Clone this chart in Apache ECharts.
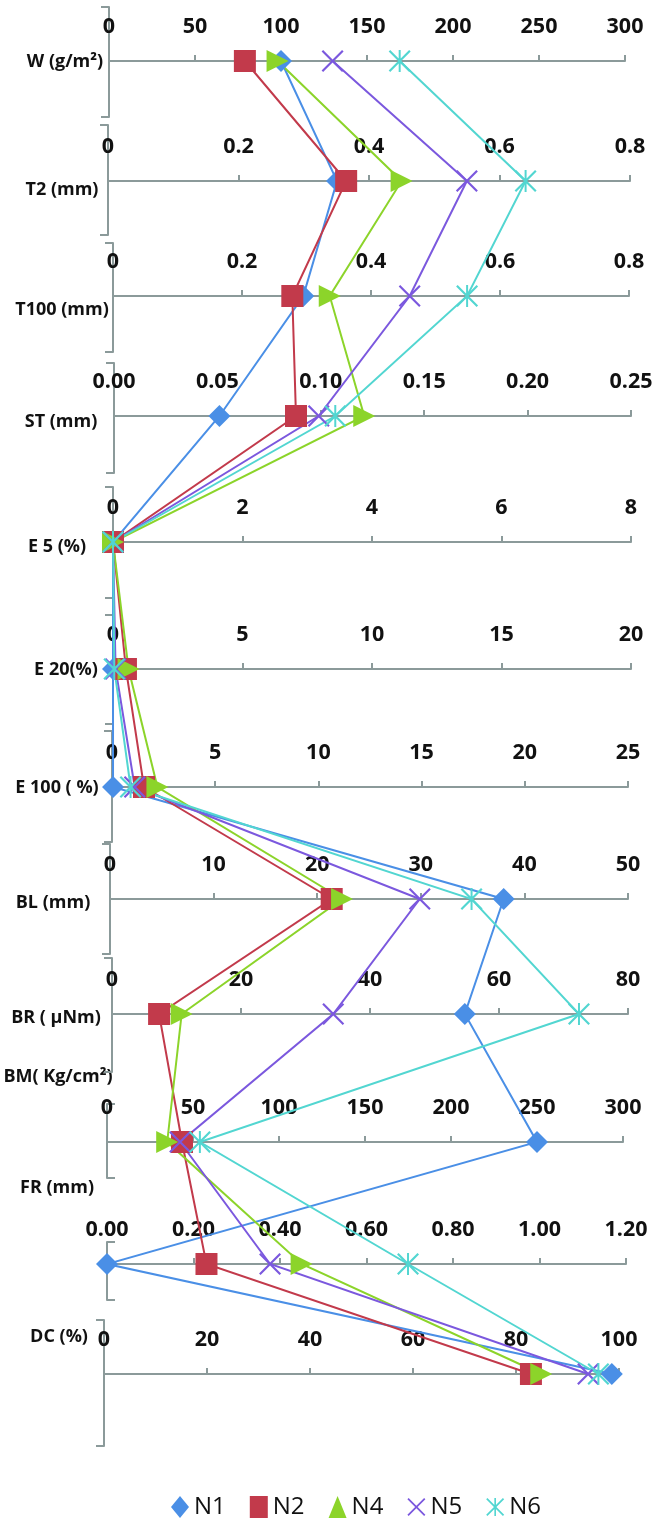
<!DOCTYPE html>
<html><head><meta charset="utf-8">
<script src="https://cdn.jsdelivr.net/npm/echarts@6/dist/echarts.min.js"></script>
<style>html,body{margin:0;padding:0;background:#fff}#c{width:656px;height:1528px}</style>
</head><body><div id="c"></div>
<script>
// ---------- DATA ----------
const rowNames = ['W (g/m²)','T2 (mm)','T100 (mm)','ST (mm)','E 5 (%)','E 20(%)','E 100 ( %)','BL (mm)','BR ( µNm)','BM( Kg/cm²)','FR (mm)','DC (%)'];
const axisMax  = [300, 0.8, 0.8, 0.25, 8, 20, 25, 50, 80, 300, 1.2, 100];
const axisStep = [50, 0.2, 0.2, 0.05, 2, 5, 5, 10, 20, 50, 0.2, 20];
const labelDecimals = [null, null, null, 2, null, null, null, null, null, null, 2, null];
const seriesNames = ['N1','N2','N4','N5','N6'];
const N1 = [100, 0.351, 0.295, 0.051, 0, 0,    0.05, 38.0, 54.7, 250,  0,     98.6];
const N2 = [79,  0.365, 0.278, 0.088, 0, 0.5,  1.55, 21.4, 7.3,  43.6, 0.23,  82.9];
const N4 = [98,  0.45,  0.336, 0.121, 0, 0.6,  2.2,  22.4, 10.8, 35,   0.45,  84.9];
const N5 = [130, 0.55,  0.46,  0.099, 0, 0.1,  1.1,  29.9, 34.3, 42.5, 0.377, 94];
const N6 = [169, 0.64,  0.549, 0.107, 0, 0.05, 0.9,  34.9, 72.4, 54,   0.696, 96];
const seriesValues = [N1, N2, N4, N5, N6];

// ---------- LAYOUT / STYLE ----------
const rowAxisY  = [61,181,296,416,542,669,787,899,1014,1142,1264,1374];
const rowTop    = [7,125,243,363,487,615,731,844,958,1104,1242,1320];
const rowBottom = [117,235,352,473,598,724,842,954,1072,1178,1300,1446];
const rowX0 = [109,108,113,114,113,113,112,110,112,107,107,104];
const rowX1 = [625,630,629,631,631,631,628,628,628,623,626,619];
const rowTickInside = [false,false,false,false,false,false,false,false,false,true,true,false];
const nameX = [65,62,62,61,57,66,57,53,56,58,57,59];
const nameY = [62,190,310,422,547,670,788,903,1018,1077,1188,1337];

const colors = ['#4A8FE6','#C23A4B','#8CD42A','#7B58DE','#52D6D1'];
const XPATH = 'path://M0,0.7L0.7,0L5,4.3L9.3,0L10,0.7L5.7,5L10,9.3L9.3,10L5,5.7L0.7,10L0,9.3L4.3,5Z';
const STARPATH = 'path://M0,0.7L0.7,0L5,4.3L9.3,0L10,0.7L5.7,5L10,9.3L9.3,10L5,5.7L0.7,10L0,9.3L4.3,5Z M4.55,0L5.45,0L5.45,10L4.55,10Z';
const symbols = ['diamond','rect','triangle',XPATH,STARPATH];
const symbolRot = [0,0,-90,0,0];
const axisColor = '#8B9A9A';
const FONT = '"Open Sans"';

const chart = echarts.init(document.getElementById('c'));

const grid = [], xAxis = [], yAxis = [], series = [], graphic = [];
for (let k = 0; k < rowNames.length; k++) {
  grid.push({left: rowX0[k], right: 656 - rowX1[k], top: rowTop[k], height: rowBottom[k] - rowTop[k], outerBoundsMode: 'none', containLabel: false});
  const dec = labelDecimals[k];
  xAxis.push({
    gridIndex: k, type: 'value', position: 'top', offset: -(rowAxisY[k] - rowTop[k]),
    min: 0, max: axisMax[k], interval: axisStep[k],
    axisLine: {show: true, onZero: false, lineStyle: {color: axisColor, width: 2}},
    axisTick: {show: true, length: 6, lineStyle: {color: axisColor, width: 2}},
    axisLabel: {show: true, interval: 0, margin: 23, fontFamily: FONT, fontWeight: 'bold', fontSize: 21.5, color: '#111',
      formatter: dec == null ? null : (v => Number(v).toFixed(dec))},
    splitLine: {show: false}
  });
  const ymin = -(rowBottom[k] - rowAxisY[k]);
  const ymax = rowAxisY[k] - rowTop[k];
  yAxis.push({
    gridIndex: k, type: 'value', min: ymin, max: ymax,
    axisLine: {show: true, onZero: false, lineStyle: {color: axisColor, width: 2}},
    axisTick: {show: true, inside: rowTickInside[k], length: 8, customValues: [ymin, ymax], lineStyle: {color: axisColor, width: 2}},
    axisLabel: {show: false}, splitLine: {show: false}
  });
  graphic.push({type: 'text', x: nameX[k], y: nameY[k], style: {text: rowNames[k], fill: '#111', font: 'bold 18px ' + FONT, textAlign: 'center', textVerticalAlign: 'middle'}});
}

// markers
seriesNames.forEach((nm, si) => {
  for (let k = 0; k < rowNames.length; k++) {
    series.push({
      type: 'scatter', name: nm, xAxisIndex: k, yAxisIndex: k, z: 3 + si * 0.1,
      symbol: symbols[si], symbolRotate: symbolRot[si], symbolSize: 22,
      itemStyle: {color: colors[si], opacity: 1},
      emphasis: {disabled: true}, silent: true,
      data: [[seriesValues[si][k], 0]]
    });
  }
});
// connecting lines, positioned through each row's own axes
seriesNames.forEach((nm, si) => {
  const vals = seriesValues[si];
  series.push({
    type: 'custom', name: nm, coordinateSystem: 'none', silent: true, z: 1,
    data: [[0]],
    renderItem: function (params, api) {
      const pts = [];
      for (let k = 0; k < vals.length; k++) {
        const p = chart.convertToPixel({xAxisIndex: k, yAxisIndex: k}, [vals[k], 0]);
        if (p) pts.push(p);
      }
      return {type: 'polyline', shape: {points: pts}, style: {stroke: colors[si], lineWidth: 2, fill: 'none'}};
    }
  });
});

chart.setOption({
  animation: false,
  backgroundColor: '#fff',
  textStyle: {fontFamily: FONT},
  grid, xAxis, yAxis, series, graphic,
  legend: {
    left: 166, top: 1490, itemWidth: 18, itemHeight: 22, itemGap: 24, itemStyle: {borderWidth: 0},
    textStyle: {fontFamily: FONT, fontSize: 24, color: '#111'},
    selectedMode: false,
    data: seriesNames.map((n, i) => ({name: n, icon: symbols[i]}))
  }
});
</script></body></html>
